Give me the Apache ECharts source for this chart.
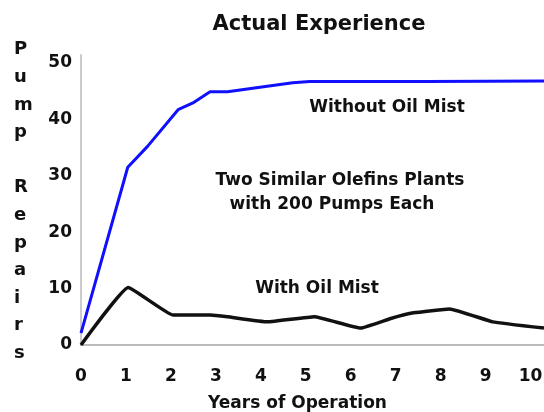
<!DOCTYPE html>
<html>
<head>
<meta charset="utf-8">
<script src="https://cdn.jsdelivr.net/npm/echarts@6/dist/echarts.min.js"></script>
<style>
  html, body { margin: 0; padding: 0; background: #fff; }
  #chart { width: 544px; height: 412px; }
</style>
</head>
<body>
<div id="chart"></div>
<script>
// values (years, pump repairs)
const withoutMist = [
  [0, 2.1], [1.04, 31.5], [1.48, 35.2], [2.16, 41.7], [2.49, 42.9], [2.87, 44.9],
  [3.26, 44.9], [3.98, 45.7], [4.71, 46.5], [5.09, 46.7], [7.7, 46.7], [10.3, 46.8]
];
const withMist = [
  [0, 0], [1.05, 10.2], [2.05, 5.3], [2.87, 5.3], [3.26, 5.0], [4.15, 4.1],
  [5.19, 5.0], [6.22, 3.0], [6.89, 4.7], [7.4, 5.7], [8.2, 6.4], [9.16, 4.1], [10.3, 3.0]
];
const yLetters = ['P', 'u', 'm', 'p', ' ', 'R', 'e', 'p', 'a', 'i', 'r', 's'];
const notes = [
  { text: 'Without Oil Mist', x: 387, y: 108 },
  { text: 'Two Similar Olefins Plants', x: 340, y: 181 },
  { text: 'with 200 Pumps Each', x: 332, y: 205 },
  { text: 'With Oil Mist', x: 317, y: 289 }
];

const font = '"DejaVu Sans", sans-serif';
const chart = echarts.init(document.getElementById('chart'));

chart.setOption({
  animation: false,
  title: {
    text: 'Actual Experience',
    left: 314, top: 9, textAlign: 'center',
    textStyle: { fontFamily: font, fontWeight: 'bold', fontSize: 21, color: '#111' }
  },
  grid: { left: 81, right: 0, top: 55, bottom: 67, outerBoundsMode: 'none' },
  xAxis: {
    type: 'value',
    min: 0, max: 10.3, interval: 1,
    name: 'Years of Operation',
    nameLocation: 'middle',
    nameGap: 50,
    nameTextStyle: { fontFamily: font, fontWeight: 'bold', fontSize: 17, color: '#111', padding: [0, 30, 0, 0] },
    axisLine: { lineStyle: { color: '#bbb', width: 2 } },
    axisTick: { show: false },
    splitLine: { show: false },
    axisLabel: {
      margin: 23,
      fontFamily: font, fontWeight: 'bold', fontSize: 17, color: '#111',
      formatter: v => (Math.abs(v - Math.round(v)) < 1e-6 ? String(Math.round(v)) : '')
    }
  },
  yAxis: {
    type: 'value',
    min: 0, max: 51.4, interval: 10,
    axisLine: { show: true, lineStyle: { color: '#ccc', width: 2 } },
    axisTick: { show: false },
    splitLine: { show: false },
    axisLabel: {
      margin: 9,
      fontFamily: font, fontWeight: 'bold', fontSize: 17, color: '#111',
      formatter: v => (v % 10 === 0 ? String(v) : '')
    }
  },
  graphic: [
    {
      type: 'text', left: 14, top: 36,
      style: {
        text: yLetters.join('\n'),
        font: 'bold 18px ' + font,
        lineHeight: 27.6,
        fill: '#111',
        align: 'center'
      }
    }
  ].concat(notes.map(n => ({
    type: 'text', x: n.x, y: n.y,
    style: {
      text: n.text, font: 'bold 17px ' + font, fill: '#111',
      align: 'center', verticalAlign: 'middle'
    }
  }))),
  series: [
    {
      type: 'line', data: withoutMist, symbol: 'none',
      lineStyle: { color: '#1010ff', width: 3 }
    },
    {
      type: 'line', data: withMist, symbol: 'none', smooth: 0.1,
      lineStyle: { color: '#111', width: 3.5 }
    }
  ]
});
</script>
</body>
</html>
